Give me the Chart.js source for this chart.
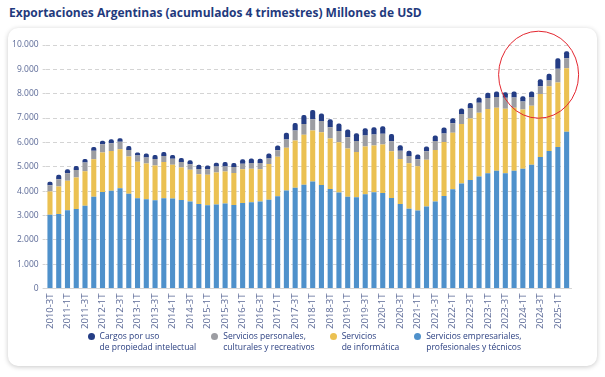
<!DOCTYPE html>
<html>
<head>
<meta charset="utf-8">
<script src="https://cdn.jsdelivr.net/npm/chart.js@4.4.1/dist/chart.umd.min.js"></script>
<style>
  html, body { margin:0; padding:0; background:#ffffff; }
  body { width:605px; height:377px; position:relative; overflow:hidden; font-family:"Open Sans", "Noto Sans", sans-serif; }
  #title { position:absolute; left:9px; top:4px; font-family:"Open Sans", sans-serif; font-weight:700; font-size:12px; color:#1f3a7d; white-space:nowrap; }
  #card { position:absolute; left:8px; top:28px; width:589px; height:338px; background:#fff; border-radius:10px; box-shadow:0 1px 5px rgba(0,0,0,0.22); }
  #cwrap { position:absolute; left:0; top:0; width:589px; height:306px; }
  #legend { position:absolute; left:0; top:303px; width:589px; display:flex; justify-content:center; gap:15px; padding-left:4px; box-sizing:border-box; }
  .li { display:flex; align-items:flex-start; font-size:8.5px; line-height:10.6px; color:#2a3f80; }
  .dot { width:7px; height:7px; border-radius:50%; margin-top:2px; margin-right:5px; flex:none; }
</style>
</head>
<body>
<div id="title">Exportaciones Argentinas (acumulados 4 trimestres) Millones de USD</div>
<div id="card">
  <div id="cwrap"><canvas id="c"></canvas></div>
  <div id="legend"></div>
</div>
<script>
const categories = [
  "2010-3T","2010-4T","2011-1T","2011-2T","2011-3T","2011-4T","2012-1T","2012-2T","2012-3T","2012-4T",
  "2013-1T","2013-2T","2013-3T","2013-4T","2014-1T","2014-2T","2014-3T","2014-4T","2015-1T","2015-2T",
  "2015-3T","2015-4T","2016-1T","2016-2T","2016-3T","2016-4T","2017-1T","2017-2T","2017-3T","2017-4T",
  "2018-1T","2018-2T","2018-3T","2018-4T","2019-1T","2019-2T","2019-3T","2019-4T","2020-1T","2020-2T",
  "2020-3T","2020-4T","2021-1T","2021-2T","2021-3T","2021-4T","2022-1T","2022-2T","2022-3T","2022-4T",
  "2023-1T","2023-2T","2023-3T","2023-4T","2024-1T","2024-2T","2024-3T","2024-4T","2025-1T","2025-2T"
];

const serviciosEmpresariales = [
  3030,3060,3210,3260,3400,3770,3960,4010,4120,3890,
  3710,3670,3620,3710,3700,3630,3570,3470,3420,3450,
  3490,3430,3510,3540,3570,3640,3790,4020,4140,4260,
  4390,4250,4090,3940,3770,3750,3870,3950,3920,3720,
  3470,3280,3200,3370,3570,3800,4080,4310,4460,4600,
  4730,4840,4730,4840,4920,5080,5400,5650,5810,6440
];
const serviciosInformatica = [
  950,1130,1210,1300,1420,1540,1630,1640,1600,1530,
  1500,1460,1430,1490,1380,1340,1310,1220,1250,1310,
  1310,1310,1390,1380,1330,1470,1620,1760,1940,2050,
  2100,2170,2070,2070,1980,1860,1960,1920,1990,1920,
  1850,1860,1820,1920,2120,2220,2320,2450,2520,2620,
  2640,2580,2650,2580,2430,2430,2590,2660,2650,2610
];
const serviciosPersonales = [
  260,300,310,310,350,350,330,310,310,270,
  250,250,270,240,250,230,220,220,230,250,
  210,250,220,230,250,230,270,340,410,450,
  460,460,460,460,460,450,450,450,450,410,
  340,300,290,350,370,350,390,410,430,410,
  450,440,450,420,330,350,320,230,560,410
];
const cargosPropiedad = [
  140,180,170,160,150,150,150,170,140,160,
  130,160,160,170,150,160,170,170,150,150,
  180,160,190,190,180,200,190,280,310,370,
  380,310,330,310,320,320,300,300,300,290,
  220,220,190,190,220,240,200,220,210,210,
  220,230,230,250,220,230,280,280,440,280
];

const yTicks = [0,1000,2000,3000,4000,5000,6000,7000,8000,9000,10000];

const seriesLabels = {
  blue: ["Servicios empresariales,", "profesionales y técnicos"],
  yellow: ["Servicios", "de informática"],
  gray: ["Servicios personales,", "culturales y recreativos"],
  navy: ["Cargos por uso", "de propiedad intelectual"]
};
const colors = { blue:"#4f91cb", yellow:"#ebc152", gray:"#9c9da2", navy:"#243d85" };

function fmt(v){ return String(v).replace(/\B(?=(\d{3})+(?!\d))/g, "."); }

const datasets = [
  { key:"blue", data: serviciosEmpresariales },
  { key:"yellow", data: serviciosInformatica },
  { key:"gray", data: serviciosPersonales },
  { key:"navy", data: cargosPropiedad }
].map(d => ({
  label: seriesLabels[d.key].join(" "),
  data: d.data,
  backgroundColor: colors[d.key],
  borderWidth: 0,
  borderSkipped: false,
  borderRadius: d.key === "navy" ? {topLeft:2, topRight:2, bottomLeft:0, bottomRight:0} : 0,
  categoryPercentage: 0.6,
  barPercentage: 0.97
}));

const circlePlugin = {
  id: "circle",
  afterDraw(chart){
    const {ctx, scales} = chart;
    const cx = scales.x.getPixelForValue(55.8);
    const cy = scales.y.getPixelForValue(8780);
    ctx.save();
    ctx.beginPath();
    ctx.ellipse(cx, cy, 40, 43.5, 0, 0, Math.PI*2);
    ctx.strokeStyle = "#e3262f";
    ctx.lineWidth = 1;
    ctx.stroke();
    ctx.restore();
  }
};

Chart.defaults.font.family = '"Open Sans", "Noto Sans", sans-serif';

new Chart(document.getElementById("c"), {
  type: "bar",
  data: { labels: categories, datasets },
  options: {
    responsive: true,
    maintainAspectRatio: false,
    animation: false,
    layout: { padding: { top: 17, right: 26, left: 0, bottom: 0 } },
    plugins: { legend: { display:false }, tooltip: { enabled:false }, title: { display:false } },
    scales: {
      x: {
        stacked: true,
        offset: true,
        grid: { display:false, drawTicks:false },
        border: { display:true, color:"#d6d6d6", width:1 },
        ticks: {
          autoSkip:false, minRotation:90, maxRotation:90, padding:5,
          color:"#5d6b98", font:{ size:9.5 },
          callback: function(v, i){ return i % 2 === 0 ? categories[i] : ""; }
        },
        afterFit(scale){ scale.height = 45.5; }
      },
      y: {
        stacked: true,
        min: 0, max: 10000,
        afterBuildTicks(scale){ scale.ticks = yTicks.map(v => ({value:v})); },
        grid: { color:"#d4d4d4", lineWidth:1, drawTicks:true, tickLength:3, tickBorderDash:[3,2], tickColor:"#d4d4d4" },
        border: { display:false, dash:[4,3] },
        ticks: { color:"#5d6b98", font:{ size:8.5 }, padding:4, callback: v => fmt(v) },
        afterFit(scale){ scale.width = 37.6; }
      }
    }
  },
  plugins: [circlePlugin]
});

const legendOrder = ["navy","gray","yellow","blue"];
const legendEl = document.getElementById("legend");
legendOrder.forEach(k => {
  const item = document.createElement("div");
  item.className = "li";
  const dot = document.createElement("span");
  dot.className = "dot";
  dot.style.background = colors[k];
  const txt = document.createElement("div");
  seriesLabels[k].forEach(line => { const s = document.createElement("div"); s.textContent = line; txt.appendChild(s); });
  item.appendChild(dot); item.appendChild(txt);
  legendEl.appendChild(item);
});
</script>
</body>
</html>
